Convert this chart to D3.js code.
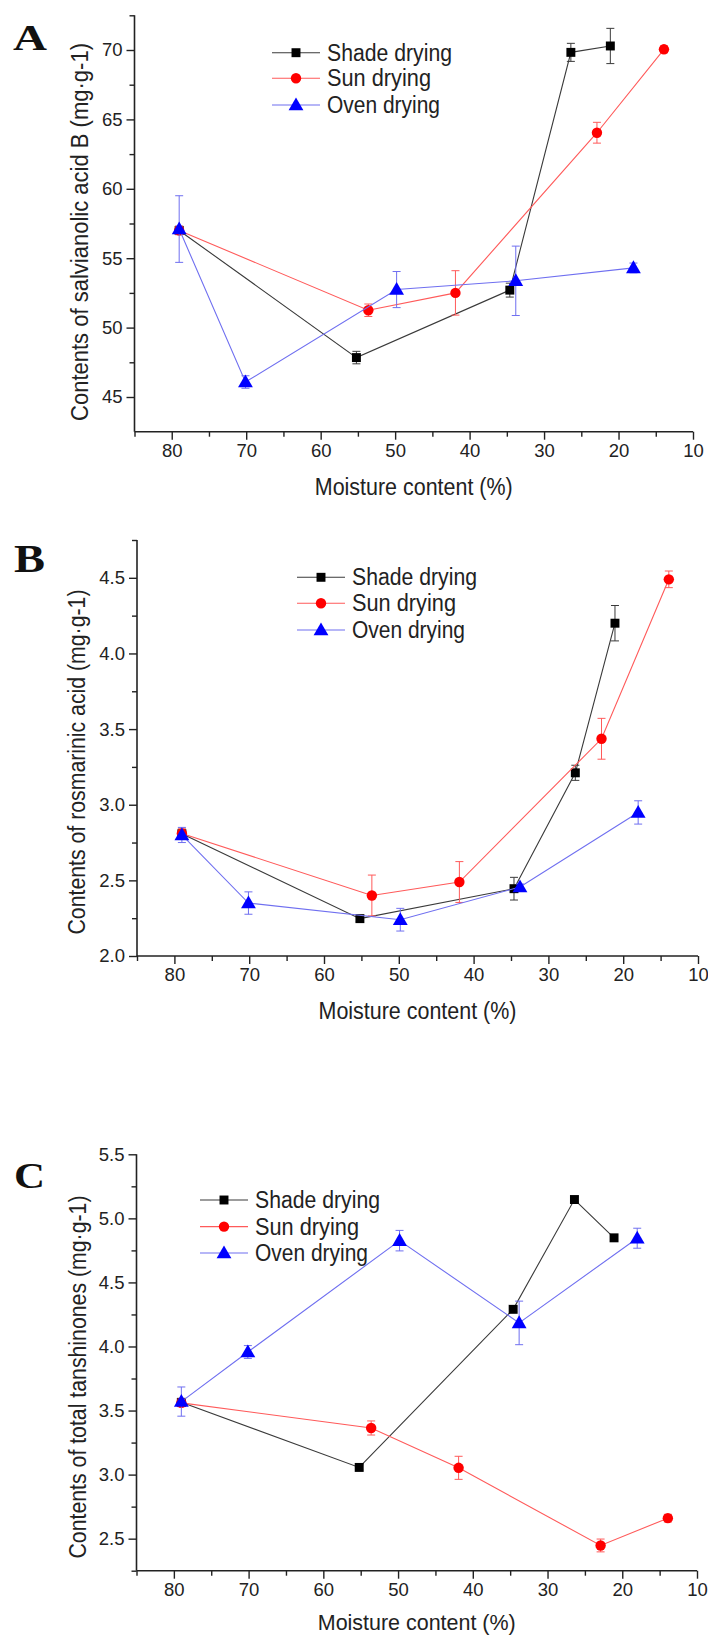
<!DOCTYPE html>
<html><head><meta charset="utf-8">
<script src="https://cdn.jsdelivr.net/npm/d3@7"></script>
<style>
body{margin:0;background:#fff}
svg{display:block;font-family:"Liberation Sans",Arial,Helvetica,sans-serif}
</style>
</head><body>
<svg id="chart" width="708" height="1637"></svg>
<script>
// ---------- data ----------
const seriesNames = ["Shade drying", "Sun drying", "Oven drying"];
const xTickLabels = [80, 70, 60, 50, 40, 30, 20, 10];
const xMinorTicks = [85, 75, 65, 55, 45, 35, 25, 15];
const xDomain = [85, 10];

// moisture content (%) of each sampling point
const xShade = [79, 55.2, 34.6, 26.4, 21.1];
const xSun   = [79, 53.6, 41.9, 22.9, 13.9];
const xOven  = [79, 70.1, 49.8, 33.8, 18.0];

// A: salvianolic acid B
const aYDomain = [42.5, 72.5];
const aYTicks = [45, 50, 55, 60, 65, 70];
const aYMinor = [47.5, 52.5, 57.5, 62.5, 67.5, 72.5];
const aShade = [57.0, 47.84, 52.7, 69.83, 70.29];
const aShadeErr = [0.3, 0.45, 0.5, 0.65, 1.27];
const aSun = [57.0, 51.25, 52.5, 64.04, 70.05];
const aSunErr = [0.3, 0.45, 1.6, 0.75, 0.25];
const aOven = [57.1, 46.08, 52.74, 53.37, 54.3];
const aOvenErr = [2.4, 0.45, 1.3, 2.5, 0.35];

// B: rosmarinic acid
const bYDomain = [2.0, 4.75];
const bYTicks = [2.0, 2.5, 3.0, 3.5, 4.0, 4.5];
const bYMinor = [2.25, 2.75, 3.25, 3.75, 4.25, 4.75];
const bShade = [2.808, 2.247, 2.445, 3.211, 4.20];
const bShadeErr = [0.03, 0.02, 0.075, 0.05, 0.117];
const bSun = [2.81, 2.40, 2.489, 3.436, 4.49];
const bSunErr = [0.03, 0.135, 0.135, 0.135, 0.055];
const bOven = [2.80, 2.35, 2.24, 2.456, 2.949];
const bOvenErr = [0.05, 0.074, 0.075, 0.02, 0.077];

// C: total tanshinones
const cYDomain = [2.25, 5.5];
const cYTicks = [2.5, 3.0, 3.5, 4.0, 4.5, 5.0, 5.5];
const cYMinor = [2.25, 2.75, 3.25, 3.75, 4.25, 4.75, 5.25];
const cShade = [3.564, 3.056, 4.29, 5.147, 4.848];
const cShadeErr = [0.03, 0.02, 0.02, 0.02, 0.02];
const cSun = [3.56, 3.364, 3.053, 2.447, 2.66];
const cSunErr = [0.03, 0.055, 0.09, 0.05, 0.03];
const cOven = [3.57, 3.957, 4.826, 4.184, 4.845];
const cOvenErr = [0.114, 0.05, 0.08, 0.17, 0.078];

// ---------- styles ----------
const lineColors = ["#3a3a3a", "#ff5a5a", "#6f6ff0"];
const markColors = ["#000000", "#ff0000", "#0000ff"];
const markShapes = [d3.symbolSquare, d3.symbolCircle, d3.symbolTriangle];
const markSizes = [80, 85, 95];
const SANS = '"Liberation Sans",Arial,Helvetica,sans-serif';
const SERIF = '"Liberation Serif","Times New Roman",serif';

const svg = d3.select("#chart");
svg.append("rect").attr("width", 708).attr("height", 1637).attr("fill", "#fff");

function fitText(sel, len) {
  return sel.attr("textLength", len).attr("lengthAdjust", "spacingAndGlyphs");
}

function panel(cfg) {
  const g = svg.append("g");
  const x = d3.scaleLinear().domain(xDomain).range([cfg.x0, cfg.x1]);
  const y = d3.scaleLinear().domain(cfg.yDomain).range([cfg.yBot, cfg.yTop]);

  // x axis
  const xa = g.append("g").attr("transform", `translate(0,${cfg.yBot})`)
    .call(d3.axisBottom(x).tickValues(xTickLabels).tickSize(8).tickPadding(4).tickFormat(d3.format("d")));
  xa.select(".domain").remove();
  g.append("g").attr("transform", `translate(0,${cfg.yBot})`)
    .call(d3.axisBottom(x).tickValues(xMinorTicks).tickSize(5).tickFormat(""))
    .select(".domain").remove();
  g.append("line").attr("x1", cfg.x0).attr("x2", cfg.x1).attr("y1", cfg.yBot).attr("y2", cfg.yBot)
    .attr("stroke", "#222").attr("stroke-width", 1.6);
  xa.selectAll("text").attr("font-size", 18.5).attr("fill", "#222").attr("font-family", SANS);

  // y axis
  const ya = g.append("g").attr("transform", `translate(${cfg.x0},0)`)
    .call(d3.axisLeft(y).tickValues(cfg.yTicks).tickSize(8).tickPadding(4).tickFormat(cfg.fmt));
  ya.select(".domain").remove();
  g.append("g").attr("transform", `translate(${cfg.x0},0)`)
    .call(d3.axisLeft(y).tickValues(cfg.yMinor).tickSize(5).tickFormat(""))
    .select(".domain").remove();
  g.append("line").attr("x1", cfg.x0).attr("x2", cfg.x0).attr("y1", cfg.yTop).attr("y2", cfg.yBot)
    .attr("stroke", "#222").attr("stroke-width", 1.6);
  ya.selectAll("text").attr("font-size", 18.5).attr("fill", "#222").attr("font-family", SANS);
  g.selectAll(".tick line").attr("stroke", "#222").attr("stroke-width", 1.4);

  // titles
  fitText(g.append("text").attr("x", (cfg.x0 + cfg.x1) / 2).attr("y", cfg.yBot + cfg.xtOff)
    .attr("text-anchor", "middle").attr("dominant-baseline", "central")
    .attr("font-size", cfg.xtSize).attr("fill", "#222").attr("font-family", SANS)
    .text("Moisture content (%)"), 198);
  fitText(g.append("text").attr("transform", `translate(${cfg.ytx},${cfg.yty}) rotate(-90)`)
    .attr("text-anchor", "middle").attr("dominant-baseline", "central")
    .attr("font-size", 23).attr("fill", "#222").attr("font-family", SANS)
    .text(cfg.yTitle), cfg.ytLen);
  fitText(g.append("text").attr("x", cfg.lx).attr("y", cfg.ly)
    .style("font-family", SERIF).attr("fill", "#111")
    .attr("font-weight", "bold").attr("font-size", cfg.lsize).text(cfg.letter), cfg.lw);

  // series
  cfg.series.forEach((s, i) => {
    const pts = s.xs.map((xv, j) => ({x: xv, y: s.ys[j], e: s.es[j]}));
    g.append("path").datum(pts)
      .attr("fill", "none").attr("stroke", lineColors[i]).attr("stroke-width", 1.1)
      .attr("d", d3.line().x(d => x(d.x)).y(d => y(d.y)));
    const eb = g.append("g").attr("stroke", lineColors[i]).attr("stroke-width", 1);
    pts.forEach(d => {
      const cx = x(d.x), y1 = y(d.y - d.e), y2 = y(d.y + d.e);
      eb.append("line").attr("x1", cx).attr("x2", cx).attr("y1", y1).attr("y2", y2);
      eb.append("line").attr("x1", cx - 4).attr("x2", cx + 4).attr("y1", y1).attr("y2", y1);
      eb.append("line").attr("x1", cx - 4).attr("x2", cx + 4).attr("y1", y2).attr("y2", y2);
    });
    g.append("g").selectAll("path").data(pts).join("path")
      .attr("transform", d => `translate(${x(d.x)},${y(d.y) + (i === 2 ? 1 : 0)})`)
      .attr("d", d3.symbol(markShapes[i], markSizes[i]))
      .attr("fill", markColors[i]);
  });

  // legend
  seriesNames.forEach((name, i) => {
    const yy = cfg.legY[i];
    g.append("line").attr("x1", cfg.legX).attr("x2", cfg.legX + 48).attr("y1", yy).attr("y2", yy)
      .attr("stroke", lineColors[i]).attr("stroke-width", 1.1);
    g.append("path").attr("transform", `translate(${cfg.legX + 24},${yy + (i === 2 ? 1 : 0)})`)
      .attr("d", d3.symbol(markShapes[i], markSizes[i])).attr("fill", markColors[i]);
    fitText(g.append("text").attr("x", cfg.legX + 55).attr("y", yy).attr("dominant-baseline", "central")
      .attr("font-size", 23).attr("fill", "#222").attr("font-family", SANS).text(name), cfg.legLen[i]);
  });
}

panel({
  letter: "A", lx: 13, ly: 50, lsize: 36, lw: 34,
  x0: 134.5, x1: 693, yTop: 15.3, yBot: 431.7, xtOff: 55, xtSize: 23,
  yDomain: aYDomain, yTicks: aYTicks, yMinor: aYMinor, fmt: d3.format("d"),
  yTitle: "Contents of salvianolic acid B (mg·g-1)", ytx: 80, yty: 232, ytLen: 378,
  legX: 272, legY: [52.7, 78.3, 105], legLen: [125, 104, 113],
  series: [
    {xs: xShade, ys: aShade, es: aShadeErr},
    {xs: xSun, ys: aSun, es: aSunErr},
    {xs: xOven, ys: aOven, es: aOvenErr}
  ]
});

panel({
  letter: "B", lx: 14, ly: 572, lsize: 39, lw: 31,
  x0: 137, x1: 698, yTop: 540, yBot: 956, xtOff: 55, xtSize: 23,
  yDomain: bYDomain, yTicks: bYTicks, yMinor: bYMinor, fmt: d3.format(".1f"),
  yTitle: "Contents of rosmarinic acid (mg·g-1)", ytx: 77, yty: 762, ytLen: 345,
  legX: 297, legY: [577.3, 603.3, 630], legLen: [125, 104, 113],
  series: [
    {xs: xShade, ys: bShade, es: bShadeErr},
    {xs: xSun, ys: bSun, es: bSunErr},
    {xs: xOven, ys: bOven, es: bOvenErr}
  ]
});

panel({
  letter: "C", lx: 14, ly: 1188, lsize: 36, lw: 31,
  x0: 136.5, x1: 697, yTop: 1154.3, yBot: 1570.7, xtOff: 52, xtSize: 22,
  yDomain: cYDomain, yTicks: cYTicks, yMinor: cYMinor, fmt: d3.format(".1f"),
  yTitle: "Contents of total tanshinones (mg·g-1)", ytx: 78, yty: 1377, ytLen: 363,
  legX: 200, legY: [1200, 1226.6, 1253], legLen: [125, 104, 113],
  series: [
    {xs: xShade, ys: cShade, es: cShadeErr},
    {xs: xSun, ys: cSun, es: cSunErr},
    {xs: xOven, ys: cOven, es: cOvenErr}
  ]
});
</script>
</body></html>
